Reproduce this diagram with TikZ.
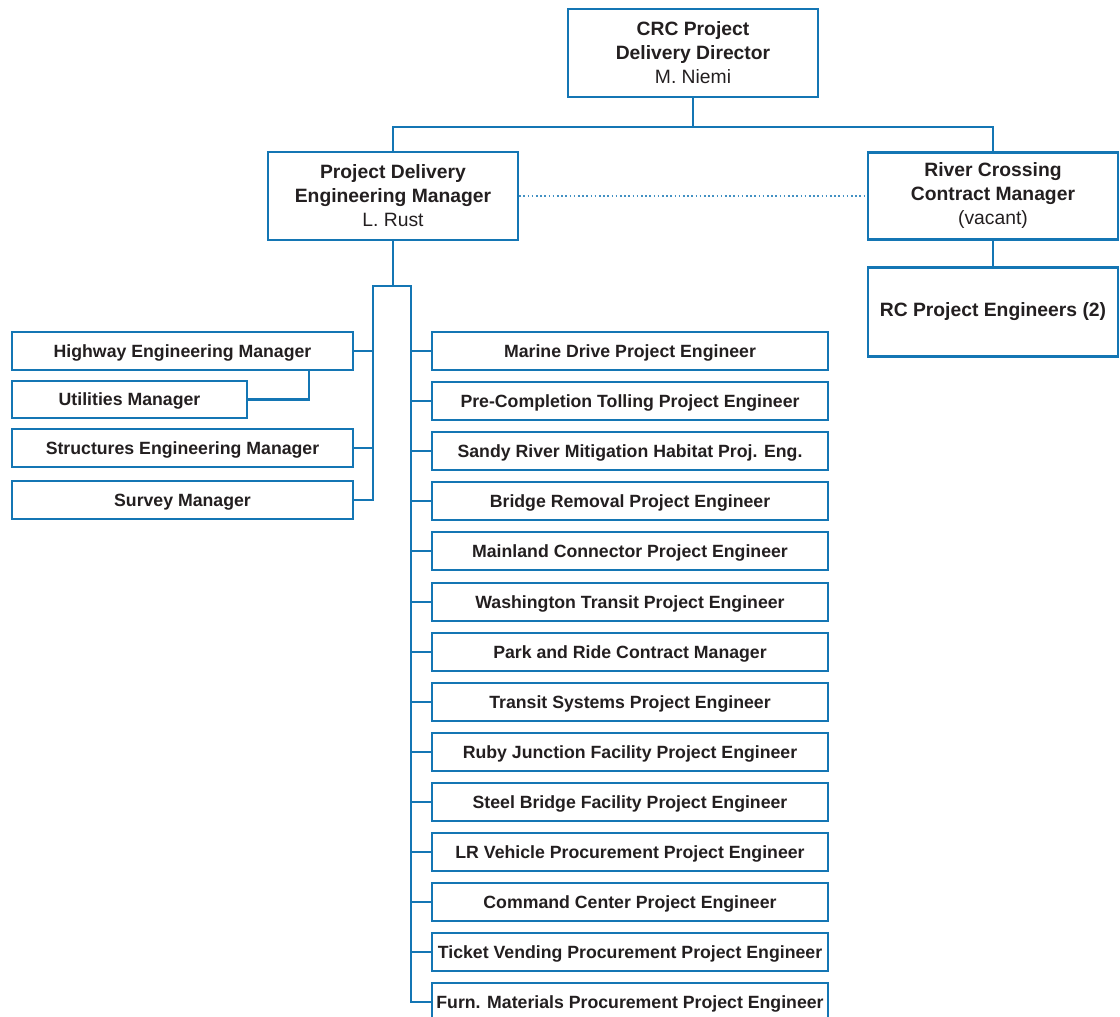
\documentclass[tikz,border=0pt]{standalone}
\usepackage{fontspec}
\setmainfont{Liberation Sans}
\definecolor{cblue}{RGB}{20,118,180}
\definecolor{ctext}{RGB}{35,31,32}
\tikzset{
  box/.style={draw=cblue, line width=2.2pt, fill=white, text=ctext, align=center,
    font=\fontsize{17.7}{23}\selectfont\bfseries, inner sep=0pt},
  bigbox/.style={box, font=\fontsize{19.3}{24}\selectfont\bfseries, minimum width=250pt},
  conn/.style={draw=cblue, line width=2.2pt},
  dotconn/.style={draw=cblue!80, line width=1.6pt, dash pattern=on 1.6pt off 2.6pt},
  onebox/.style={box, text height=13pt, text depth=1pt},
  lbox/.style={onebox, minimum width=341pt, minimum height=38pt},
  rbox/.style={onebox, minimum width=396pt, minimum height=38pt},
}
\begin{document}
\begin{tikzpicture}[x=1pt,y=-1pt]
\useasboundingbox (0,0) rectangle (1120,1017);
% top level
\node[bigbox, minimum height=88pt] (dir) at (693,53)
  {CRC Project\\Delivery Director\\{\mdseries M. Niemi}};
\node[bigbox, minimum height=88pt] (pdem) at (393,196)
  {Project Delivery\\Engineering Manager\\{\mdseries L. Rust}};
\node[bigbox, minimum height=87pt] (rccm) at (993,196)
  {River Crossing\\Contract Manager\\{\mdseries (vacant)}};
\node[bigbox, minimum height=89pt] (rcpe) at (993,312)
  {RC Project Engineers (2)};
% left boxes
\node[lbox] (hwy) at (182.5,351) {Highway Engineering Manager};
\node[onebox, minimum width=235pt, minimum height=37pt] (util) at (129.5,399.5) {Utilities Manager};
\node[lbox] (str) at (182.5,448) {Structures Engineering Manager};
\node[lbox] (sur) at (182.5,500) {Survey Manager};
% right boxes
\node[rbox] (r1) at (630,351) {Marine Drive Project Engineer};
\node[rbox] (r2) at (630,401) {Pre-Completion Tolling Project Engineer};
\node[rbox] (r3) at (630,451) {Sandy River Mitigation Habitat Proj. Eng.};
\node[rbox] (r4) at (630,501) {Bridge Removal Project Engineer};
\node[rbox] (r5) at (630,551) {Mainland Connector Project Engineer};
\node[rbox] (r6) at (630,602) {Washington Transit Project Engineer};
\node[rbox] (r7) at (630,652) {Park and Ride Contract Manager};
\node[rbox] (r8) at (630,702) {Transit Systems Project Engineer};
\node[rbox] (r9) at (630,752) {Ruby Junction Facility Project Engineer};
\node[rbox] (r10) at (630,802) {Steel Bridge Facility Project Engineer};
\node[rbox] (r11) at (630,852) {LR Vehicle Procurement Project Engineer};
\node[rbox] (r12) at (630,902) {Command Center Project Engineer};
\node[rbox] (r13) at (630,952) {Ticket Vending Procurement Project Engineer};
\node[rbox] (r14) at (630,1002) {Furn. Materials Procurement Project Engineer};
% coordinates
\coordinate (jn) at (693,127);
\coordinate (bt) at (393,286);
\coordinate (bl) at (373,286);
\coordinate (br) at (411,286);
% connectors
\draw[conn] (dir.south) -- (jn);
\draw[conn] (pdem.north) |- (jn) -| (rccm.north);
\draw[dotconn] (pdem.east) -- (rccm.west);
\draw[conn] (rccm.south) -- (rcpe.north);
\draw[conn] (pdem.south) -- (bt);
\draw[conn] (sur.east) -| (bl) -- (br) |- (r14.west);
\draw[conn] (hwy.east) -- (hwy.east -| bl);
\draw[conn] (str.east) -- (str.east -| bl);
\draw[conn] (util.east) -| ([xshift=126.5pt]hwy.south);
\foreach \i in {1,...,13} {\draw[conn] (r\i.west) -- (r\i.west -| br);}
\end{tikzpicture}
\end{document}
